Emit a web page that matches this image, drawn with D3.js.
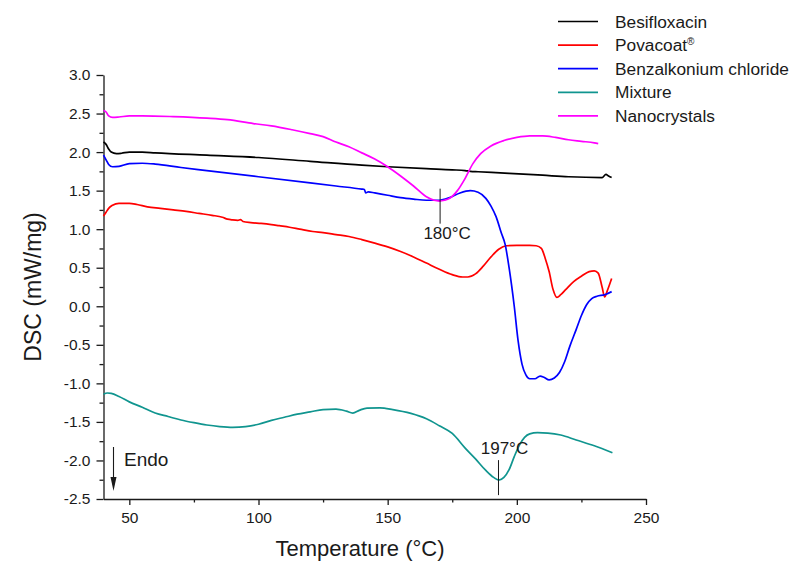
<!DOCTYPE html>
<html>
<head>
<meta charset="utf-8">
<script src="https://cdn.jsdelivr.net/npm/d3@7"></script>
<style>
  html, body { margin: 0; padding: 0; background: #fff; }
  svg { display: block; font-family: "Liberation Sans", Arial, sans-serif; }
</style>
</head>
<body>
<svg id="chart" width="792" height="563"></svg>
<script>
// DSC thermograms: temperature (°C) vs heat flow (mW/mg)
const seriesNames = ["Besifloxacin", "Povacoat", "Benzalkonium chloride", "Mixture", "Nanocrystals"];
const seriesColors = ["#000000", "#ff0000", "#0000ff", "#10958f", "#ff00ff"];

const besifloxacin = [
  [40, 2.13], [41, 2.10], [42, 2.04], [43, 2.00], [45, 1.98], [47, 1.985], [50, 2.0], [55, 2.0],
  [60, 1.99], [80, 1.96], [100, 1.93], [120, 1.88], [140, 1.83], [150, 1.81], [165, 1.785],
  [175, 1.77], [180, 1.76], [182, 1.75], [185, 1.745], [197, 1.725], [210, 1.70], [220, 1.68],
  [233, 1.67], [234.5, 1.71], [235.5, 1.69], [236.7, 1.67]
];

const povacoat = [
  [40, 1.17], [41, 1.22], [42, 1.27], [43.5, 1.31], [46, 1.335], [50, 1.335], [53, 1.32], [57, 1.29],
  [62, 1.27], [67, 1.25], [72, 1.23], [77, 1.205], [82, 1.18], [86, 1.155], [88, 1.13], [90, 1.12],
  [92, 1.115], [93, 1.125], [94, 1.10], [97, 1.085], [101, 1.075], [105, 1.06], [108, 1.045],
  [112, 1.025], [116, 1.00], [121, 0.97], [125, 0.955], [130, 0.93], [135, 0.905], [140, 0.865],
  [145, 0.82], [150, 0.77], [155, 0.71], [160, 0.64], [165, 0.56], [170, 0.48], [175, 0.41],
  [179, 0.38], [181, 0.38], [184, 0.42], [187, 0.52], [190, 0.64], [193, 0.74], [196, 0.785],
  [200, 0.79], [205, 0.79], [207.5, 0.785], [209.5, 0.75], [211, 0.62], [212.5, 0.45], [214, 0.22],
  [215.5, 0.115], [217, 0.15], [219, 0.22], [222, 0.32], [225, 0.39], [228, 0.45], [230, 0.46],
  [231.5, 0.43], [233, 0.25], [234, 0.12], [235, 0.20], [236.7, 0.36]
];

const benzalkonium = [
  [40, 1.96], [41, 1.90], [42, 1.84], [43.5, 1.81], [46, 1.815], [50, 1.85], [55, 1.855], [60, 1.845],
  [70, 1.80], [80, 1.76], [100, 1.68], [120, 1.60], [130, 1.56], [140, 1.52], [141, 1.515],
  [141.5, 1.47], [142.5, 1.485], [145, 1.47], [150, 1.44], [155, 1.41], [160, 1.39], [165, 1.375],
  [170, 1.375], [174, 1.41], [178, 1.47], [182, 1.50], [185, 1.48], [188, 1.40], [190, 1.30],
  [192, 1.16], [194, 0.95], [195.5, 0.80], [197, 0.50], [199, 0.00], [200.5, -0.45], [202, -0.75],
  [203.5, -0.89], [205, -0.94], [207, -0.94], [209, -0.905], [210.5, -0.92], [212.5, -0.955],
  [214.5, -0.93], [216.5, -0.86], [218.5, -0.72], [220.5, -0.52], [223, -0.30], [225, -0.12],
  [227, 0.02], [229, 0.10], [231, 0.13], [234, 0.15], [236.7, 0.19]
];

const mixture = [
  [40, -1.14], [41.5, -1.125], [43, -1.13], [46, -1.17], [50, -1.24], [55, -1.31], [60, -1.385],
  [65, -1.43], [70, -1.475], [75, -1.51], [80, -1.54], [85, -1.56], [90, -1.57], [95, -1.56],
  [100, -1.53], [105, -1.48], [110, -1.44], [115, -1.40], [120, -1.37], [125, -1.34], [130, -1.335],
  [134, -1.36], [136.5, -1.385], [139, -1.35], [142, -1.32], [147, -1.318], [152, -1.34],
  [159, -1.39], [165, -1.46], [170, -1.55], [175, -1.65], [180, -1.84], [184, -1.98], [188, -2.13],
  [191, -2.22], [193, -2.255], [195, -2.22], [197, -2.12], [199, -1.95], [201, -1.80], [203, -1.70],
  [205, -1.655], [208, -1.64], [212, -1.645], [217, -1.67], [223, -1.735], [230, -1.81], [237, -1.90]
];

const nanocrystals = [
  [40, 2.54], [41, 2.52], [42, 2.47], [43.5, 2.45], [46, 2.455], [50, 2.47], [55, 2.47], [67, 2.46],
  [80, 2.44], [88, 2.42], [98, 2.37], [105, 2.34], [113, 2.29], [120, 2.24], [125, 2.20],
  [130, 2.13], [135, 2.07], [140, 1.99], [145, 1.91], [150, 1.81], [155, 1.69], [160, 1.56],
  [165, 1.42], [168, 1.375], [170, 1.365], [172, 1.375], [174, 1.40], [177, 1.50], [180, 1.66],
  [183, 1.85], [186, 1.98], [190, 2.08], [195, 2.15], [200, 2.19], [205, 2.21], [210, 2.21],
  [215, 2.19], [220, 2.16], [225, 2.14], [230, 2.12], [231.5, 2.11]
];

const xTicks = [50, 100, 150, 200, 250];
const xMinorTicks = [75, 125, 175, 225];
const yTicks = [3.0, 2.5, 2.0, 1.5, 1.0, 0.5, 0.0, -0.5, -1.0, -1.5, -2.0, -2.5];
const yMinorTicks = [2.75, 2.25, 1.75, 1.25, 0.75, 0.25, -0.25, -0.75, -1.25, -1.75, -2.25];

// Peak annotations: label text, temperature and value where the marker sits
const peakLabels = ["180°C", "197°C"];
const peakTemps = [170.3, 192.9];
const peakValues = [1.37, -2.255];

const allSeries = [besifloxacin, povacoat, benzalkonium, mixture, nanocrystals];

const svg = d3.select("#chart");
const margin = { left: 103.5, right: 146, top: 75, bottom: 64 };
const W = 792, H = 563;

const x = d3.scaleLinear().domain([40, 250]).range([margin.left, W - margin.right]);
const y = d3.scaleLinear().domain([-2.5, 3.0]).range([H - margin.bottom, margin.top]);

// plain hyphen for negative tick labels
const fmt = v => d3.format(".1f")(v).replace("\u2212", "-");

// Axes (left and bottom only)
svg.append("g")
  .attr("transform", `translate(0,${y(-2.5)})`)
  .call(d3.axisBottom(x).tickValues(xTicks).tickSize(6).tickSizeOuter(0).tickPadding(7).tickFormat(d3.format("d")));
svg.append("g")
  .attr("transform", `translate(0,${y(-2.5)})`)
  .call(d3.axisBottom(x).tickValues(xMinorTicks).tickSize(3.5).tickSizeOuter(0).tickFormat(""))
  .call(g => g.select(".domain").remove());

svg.append("g")
  .attr("transform", `translate(${x(40)},0)`)
  .call(d3.axisLeft(y).tickValues(yTicks).tickSize(7).tickSizeOuter(0).tickPadding(6).tickFormat(fmt));
svg.append("g")
  .attr("transform", `translate(${x(40)},0)`)
  .call(d3.axisLeft(y).tickValues(yMinorTicks).tickSize(4).tickSizeOuter(0).tickFormat(""))
  .call(g => g.select(".domain").remove());

svg.selectAll(".tick line, .domain").attr("stroke", "#1a1a1a").attr("stroke-width", 1.3);
svg.selectAll(".tick text").attr("font-size", 15.5).attr("fill", "#1a1a1a")
  .attr("font-family", "'Liberation Sans', Arial, sans-serif");

// Axis titles
svg.append("text")
  .attr("x", 360)
  .attr("y", 556)
  .attr("text-anchor", "middle")
  .attr("font-size", 22)
  .attr("fill", "#1a1a1a")
  .text("Temperature (°C)");

svg.append("text")
  .attr("transform", `translate(41,${(y(3) + y(-2.5)) / 2}) rotate(-90)`)
  .attr("text-anchor", "middle")
  .attr("font-size", 23)
  .attr("fill", "#1a1a1a")
  .text("DSC (mW/mg)");

// Curves
const line = d3.line()
  .x(d => x(d[0]))
  .y(d => y(d[1]))
  .curve(d3.curveMonotoneX);

svg.append("g").selectAll("path")
  .data(allSeries)
  .join("path")
  .attr("d", line)
  .attr("fill", "none")
  .attr("stroke", (d, i) => seriesColors[i])
  .attr("stroke-width", 1.7)
  .attr("stroke-linejoin", "round");

// Peak markers
const peaks = peakLabels.map((t, i) => ({ label: t, T: peakTemps[i], v: peakValues[i] }));
const pg = svg.append("g");
// 180°C: marker across the nanocrystal minimum, label underneath
pg.append("line")
  .attr("x1", x(peaks[0].T)).attr("x2", x(peaks[0].T))
  .attr("y1", y(peaks[0].v) - 12).attr("y2", y(peaks[0].v) + 23)
  .attr("stroke", "#1a1a1a").attr("stroke-width", 1);
pg.append("text")
  .attr("x", x(peaks[0].T) + 7).attr("y", y(peaks[0].v) + 38)
  .attr("text-anchor", "middle").attr("font-size", 17).attr("fill", "#1a1a1a")
  .text(peaks[0].label);
// 197°C: marker from the mixture minimum down towards the axis, label above
pg.append("line")
  .attr("x1", x(peaks[1].T)).attr("x2", x(peaks[1].T))
  .attr("y1", y(peaks[1].v) - 20).attr("y2", y(peaks[1].v) + 15)
  .attr("stroke", "#1a1a1a").attr("stroke-width", 1);
pg.append("text")
  .attr("x", x(peaks[1].T) + 6).attr("y", y(peaks[1].v) - 26)
  .attr("text-anchor", "middle").attr("font-size", 17).attr("fill", "#1a1a1a")
  .text(peaks[1].label);

// Endo direction arrow
const ax = 113.5;
svg.append("line")
  .attr("x1", ax).attr("x2", ax).attr("y1", 447).attr("y2", 478)
  .attr("stroke", "#1a1a1a").attr("stroke-width", 1.1);
svg.append("path")
  .attr("d", `M${ax - 3},477 L${ax + 3},477 L${ax},491 Z`)
  .attr("fill", "#1a1a1a");
svg.append("text")
  .attr("x", 124).attr("y", 466)
  .attr("font-size", 19).attr("fill", "#1a1a1a")
  .text("Endo");

// Legend
const legend = svg.append("g");
const ly0 = 21.5, lstep = 23.6;
seriesNames.forEach((name, i) => {
  const ly = ly0 + i * lstep;
  legend.append("line")
    .attr("x1", 558).attr("x2", 598).attr("y1", ly).attr("y2", ly)
    .attr("stroke", seriesColors[i]).attr("stroke-width", 1.7);
  const t = legend.append("text")
    .attr("x", 615).attr("y", ly + 6)
    .attr("font-size", 17.3).attr("fill", "#1a1a1a")
    .text(name);
  if (name === "Povacoat") {
    t.append("tspan").attr("font-size", 10).attr("dy", -6).text("®");
  }
});
</script>
</body>
</html>
